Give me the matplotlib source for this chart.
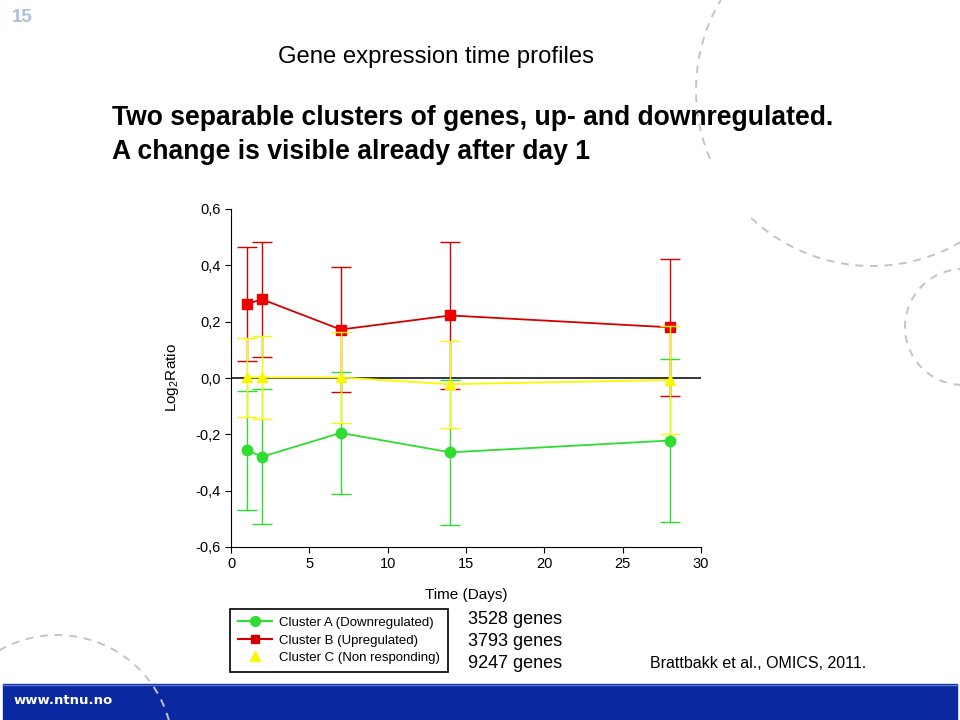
#!/usr/bin/env python3
"""Gene expression time profiles slide: three cluster means with error bars."""
import matplotlib
matplotlib.use("Agg")
import matplotlib.pyplot as plt
from matplotlib.lines import Line2D
from matplotlib.patches import Rectangle
from matplotlib.ticker import FuncFormatter
import numpy as np

plt.rcParams["font.family"] = ["Liberation Sans", "DejaVu Sans"]
plt.rcParams["mathtext.fontset"] = "custom"
plt.rcParams["mathtext.rm"] = "Liberation Sans"

days = [1, 2, 7, 14, 28]
a_mean = [-0.257, -0.279, -0.195, -0.264, -0.222]   # cluster A, downregulated
a_err = [0.211, 0.240, 0.216, 0.257, 0.291]
b_mean = [0.263, 0.279, 0.172, 0.222, 0.180]        # cluster B, upregulated
b_err = [0.203, 0.203, 0.222, 0.262, 0.244]
c_mean = [0.002, 0.002, 0.002, -0.022, -0.007]      # cluster C, non responding
c_err = [0.141, 0.148, 0.160, 0.154, 0.193]

labels = ["Cluster A (Downregulated)", "Cluster B (Upregulated)", "Cluster C (Non responding)"]
gene_counts = ["3528 genes", "3793 genes", "9247 genes"]
xticks = [0, 5, 10, 15, 20, 25, 30]
yticks = [-0.6, -0.4, -0.2, 0.0, 0.2, 0.4, 0.6]

GREEN, RED, YELLOW = "#2fdc2f", "#d40000", "#f8f800"

fig = plt.figure(figsize=(9.6, 7.2), dpi=100)

# slide background: dashed circles, footer band (pixel coords)
bg = fig.add_axes([0, 0, 1, 1], zorder=-5)
bg.set_xlim(0, 960); bg.set_ylim(720, 0); bg.axis("off")
bg.add_patch(Rectangle((3, 684), 954, 36, color="#0a28a0", zorder=1))
bg.plot([3, 957], [684.5, 684.5], color="#5a78cc", lw=1, zorder=2)
dash = dict(color="#c4c4c4", lw=1.4, ls=(0, (4, 3.5)), zorder=3)
for cx, cy, r, t0, t1 in ((872, 90, 176, 157, 212), (872, 90, 176, 55, 135),
                          (963, 327, 58, 80, 275), (57, 751, 116, 232, 360)):
    th = np.radians(np.linspace(t0, t1, 200))
    bg.plot(cx + r * np.cos(th), cy + r * np.sin(th), **dash)

fig.text(12 / 960, 1 - 18 / 720, "15", color="#a9c1d9", fontsize=13.5,
         fontweight="bold", va="center", ha="left")
fig.text(436 / 960, 1 - 57 / 720, "Gene expression time profiles", fontsize=17.2,
         ha="center", va="center")
fig.text(112 / 960, 1 - 118 / 720, "Two separable clusters of genes, up- and downregulated.",
         fontsize=19.1, fontweight="bold", ha="left", va="center")
fig.text(112 / 960, 1 - 152 / 720, "A change is visible already after day 1",
         fontsize=19.1, fontweight="bold", ha="left", va="center")
fig.text(14 / 960, 1 - 701 / 720, "www.ntnu.no", color="white", fontsize=9.5,
         fontweight="bold", family="DejaVu Sans", ha="left", va="center")

# chart
ax = fig.add_axes([231 / 960, 1 - 547 / 720, 470 / 960, 338 / 720])
ax.axhline(0, color="black", lw=1.1, zorder=1)
eb = dict(elinewidth=1, capsize=7, capthick=1)
ax.errorbar(days, a_mean, yerr=a_err, color=GREEN, marker="o", ms=7.5, lw=1.3, zorder=3, **eb)
ax.errorbar(days, b_mean, yerr=b_err, color=RED, mfc="#ee0000", mec="#ee0000",
            marker="s", ms=6.5, lw=1.3, zorder=4, **eb)
ax.errorbar(days, c_mean, yerr=c_err, color=YELLOW, marker="^", ms=7, lw=1.3, zorder=5, **eb)

ax.set_xlim(0, 30); ax.set_ylim(-0.6, 0.6)
ax.set_xticks(xticks); ax.set_yticks(yticks)
ax.yaxis.set_major_formatter(FuncFormatter(lambda v, p: f"{v:.1f}".replace(".", ",").replace("−", "-")))
for s in ("top", "right"):
    ax.spines[s].set_visible(False)
ax.tick_params(labelsize=10.5, length=4, direction="out")
ax.set_xlabel("Time (Days)", fontsize=11, labelpad=12)
ax.set_ylabel("Log$_2$Ratio", fontsize=11, labelpad=10)

handles = [Line2D([], [], color=GREEN, marker="o", ms=7),
           Line2D([], [], color=RED, marker="s", ms=6),
           Line2D([], [], color=YELLOW, marker="^", ms=7, ls="none")]
leg = fig.legend(handles, labels, loc="lower left", bbox_to_anchor=(230 / 960, 1 - 672 / 720),
                 fontsize=9.5, frameon=True, fancybox=False, edgecolor="black",
                 framealpha=1, handlelength=2.6, handletextpad=0.5, borderpad=0.6,
                 labelspacing=0.4, borderaxespad=0)
leg.get_frame().set_linewidth(1.2)

for i, txt in enumerate(gene_counts):
    fig.text(468 / 960, 1 - (620 + 21.5 * i) / 720, txt, fontsize=13, ha="left", va="center")
fig.text(650 / 960, 1 - 663 / 720, "Brattbakk et al., OMICS, 2011.", fontsize=11.5,
         ha="left", va="center")

fig.savefig("out.png", dpi=100)
